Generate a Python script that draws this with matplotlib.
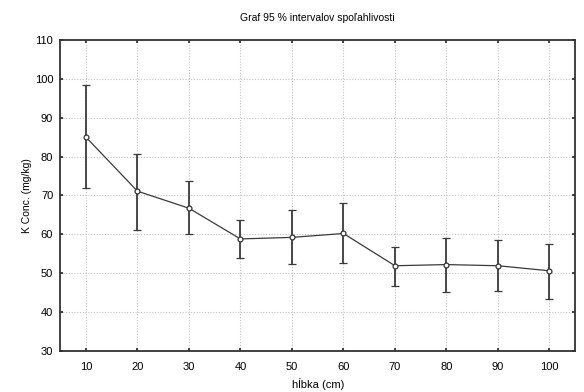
import numpy as np
import matplotlib
matplotlib.use("Agg")
import matplotlib.pyplot as plt

plt.rcParams["font.family"] = ["Liberation Sans", "DejaVu Sans"]

# hĺbka (cm)
depth = [10, 20, 30, 40, 50, 60, 70, 80, 90, 100]
mean_k = [85.0, 71.1, 66.7, 58.8, 59.2, 60.2, 51.9, 52.2, 51.9, 50.6]
ci_low = [72.0, 61.1, 60.1, 54.0, 52.3, 52.7, 46.8, 45.1, 45.4, 43.4]
ci_high = [98.4, 80.6, 73.7, 63.7, 66.3, 68.0, 56.8, 59.1, 58.6, 57.4]

yticks = [30, 40, 50, 60, 70, 80, 90, 100, 110]

fig = plt.figure(figsize=(5.84, 3.92), dpi=100)
ax = fig.add_axes([0.103, 0.105, 0.882, 0.793])

mean_k = np.array(mean_k)
err = [mean_k - np.array(ci_low), np.array(ci_high) - mean_k]
ax.errorbar(depth, mean_k, yerr=err, color="#3a3a3a", lw=0.9, elinewidth=1.3,
            capsize=3, capthick=1.3, marker="o", ms=3.5, mfc="white",
            mec="#333333", mew=0.9, zorder=3)

ax.set_xlim(5, 105)
ax.set_ylim(30, 110)
ax.set_xticks(depth)
ax.set_yticks(yticks)
ax.grid(True, color="#c4c4c4", ls=(0, (1, 1.5)), lw=0.8)
ax.tick_params(labelsize=8, length=2.5, width=1.2, color="#222222",
               direction="in", top=True, right=True, pad=5)
ax.tick_params(axis="x", pad=8)
for s in ax.spines.values():
    s.set_color("#333333")
    s.set_linewidth(1.3)

ax.set_title("Graf 95 % intervalov spoľahlivosti", fontsize=7.5, pad=14)
ax.set_xlabel("hĺbka (cm)", fontsize=8, labelpad=4)
ax.set_ylabel("K Conc. (mg/kg)", fontsize=7.5, labelpad=2)

fig.savefig("out.png", dpi=100)
